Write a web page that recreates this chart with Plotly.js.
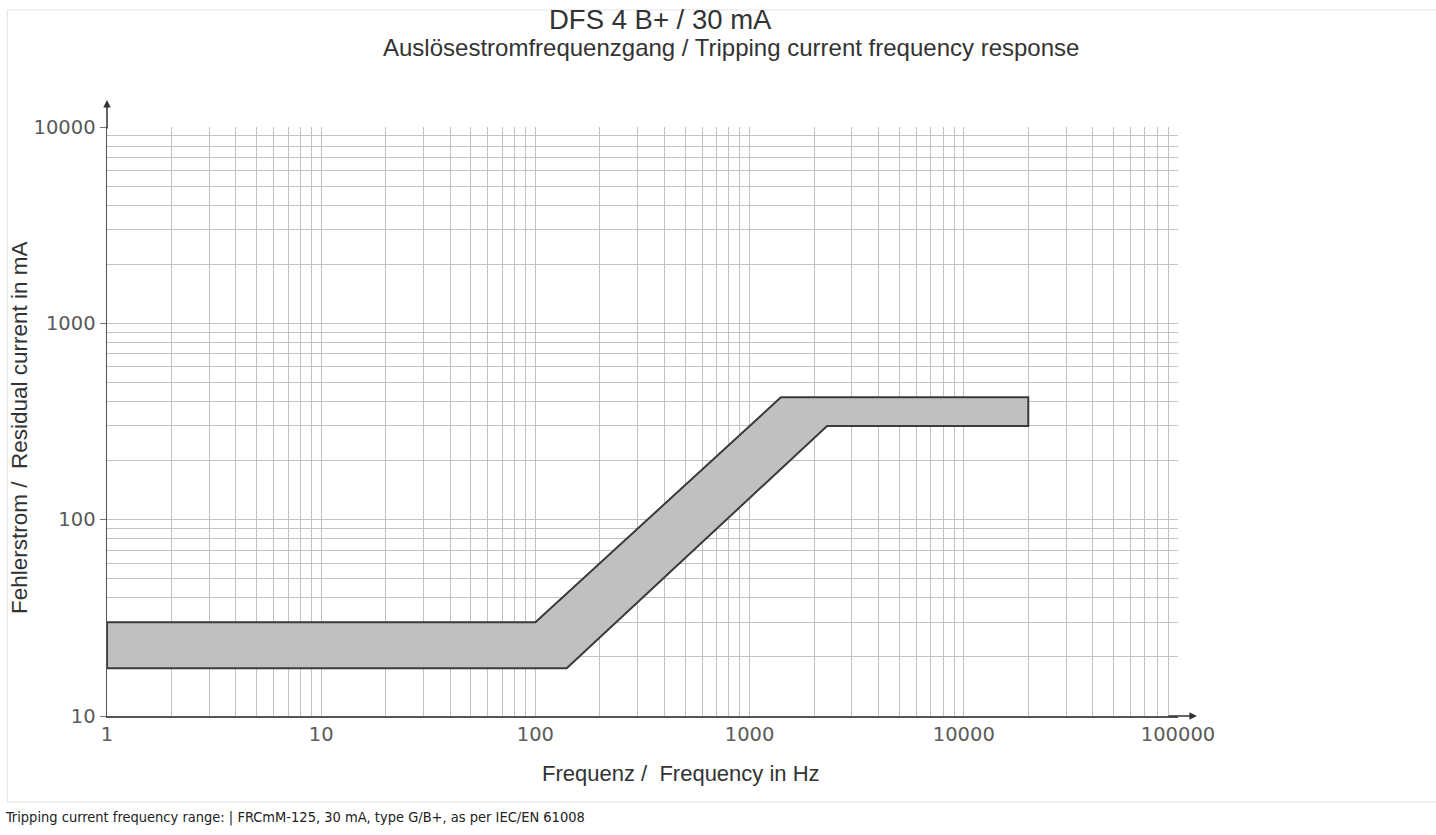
<!DOCTYPE html>
<html>
<head>
<meta charset="utf-8">
<script src="https://cdn.plot.ly/plotly-3.0.1.min.js"></script>
<style>html,body{margin:0;padding:0;background:#fff;}#chart{width:1436px;height:835px;}</style>
</head>
<body>
<div id="chart"></div>
<script>
// Band boundaries (frequency in Hz, residual current in mA)
const upperFreq = [1, 100, 1400, 20000];
const upperCurrent = [30, 30, 420, 420];
const lowerFreq = [1, 140, 2300, 20000];
const lowerCurrent = [17.5, 17.5, 300, 300];

// Tick labels
const xMajorTicks = [1, 10, 100, 1000, 10000, 100000];
const xTickLabels = ["1", "10", "100", "1000", "10000", "100000"];
const yMajorTicks = [10, 100, 1000, 10000];
const yTickLabels = ["10", "100", "1000", "10000"];
const minorDigits = [2, 3, 4, 5, 6, 7, 8, 9];

const titleLine1 = "DFS 4 B+ / 30 mA";
const titleLine2 = "Auslösestromfrequenzgang / Tripping current frequency response";
const xTitle = "Frequenz /  Frequency in Hz";
const yTitle = "Fehlerstrom /  Residual current in mA";
const footer = "Tripping current frequency range: | FRCmM-125, 30 mA, type G/B+, as per IEC/EN 61008";

function minorVals(majors) {
  const out = [];
  majors.slice(0, -1).forEach(m => minorDigits.forEach(d => out.push(m * d)));
  return out;
}

// polygon: upper edge left->right, lower edge right->left, closed
const polyX = upperFreq.concat(lowerFreq.slice().reverse(), [upperFreq[0]]);
const polyY = upperCurrent.concat(lowerCurrent.slice().reverse(), [upperCurrent[0]]);

const trace = {
  x: polyX, y: polyY, type: 'scatter', mode: 'lines',
  fill: 'toself', fillcolor: '#c0c0c0',
  line: {color: '#3a3a3a', width: 2},
  hoverinfo: 'skip', showlegend: false
};

const tickFont = {family: 'DejaVu Sans, sans-serif', size: 19.5, color: '#5a5a5a'};
const fam = 'Liberation Sans, Arial, sans-serif';
const gridColor = '#c2c2c2';

const layout = {
  width: 1436, height: 835,
  margin: {l: 107, r: 258, t: 127, b: 119},
  paper_bgcolor: '#fff', plot_bgcolor: '#fff',
  showlegend: false,
  xaxis: {
    type: 'log', range: [0, 5],
    tickmode: 'array', tickvals: xMajorTicks, ticktext: xTickLabels,
    ticks: '', tickfont: tickFont,
    showgrid: true, gridcolor: gridColor, gridwidth: 1,
    minor: {tickmode: 'array', tickvals: minorVals(xMajorTicks), showgrid: true, gridcolor: gridColor, gridwidth: 1, ticks: ''},
    showline: true, linecolor: '#555', linewidth: 1.5,
    zeroline: false, fixedrange: true
  },
  yaxis: {
    type: 'log', range: [1, 4],
    tickmode: 'array', tickvals: yMajorTicks, ticktext: yTickLabels,
    ticks: 'outside', ticklen: 6, tickcolor: '#777', tickwidth: 1,
    tickfont: tickFont,
    showgrid: true, gridcolor: gridColor, gridwidth: 1,
    minor: {tickmode: 'array', tickvals: minorVals(yMajorTicks), showgrid: true, gridcolor: gridColor, gridwidth: 1, ticks: ''},
    showline: true, linecolor: '#555', linewidth: 1.5,
    zeroline: false, fixedrange: true
  },
  shapes: [{
    type: 'rect', xref: 'paper', yref: 'paper', layer: 'below',
    x0: -0.093, x1: 1.245, y0: -0.146, y1: 1.1987,
    line: {color: '#e4e4e4', width: 1}
  }],
  annotations: [
    {text: titleLine1, xref: 'paper', yref: 'paper', x: 0.517, y: 1.1817, xanchor: 'center', yanchor: 'middle', showarrow: false,
     font: {family: fam, size: 27.5, color: '#333'}},
    {text: titleLine2, xref: 'paper', yref: 'paper', x: 0.5826, y: 1.1358, xanchor: 'center', yanchor: 'middle', showarrow: false,
     font: {family: fam, size: 24, color: '#333'}},
    {text: xTitle, xref: 'paper', yref: 'paper', x: 0.536, y: -0.0968, xanchor: 'center', yanchor: 'middle', showarrow: false,
     font: {family: fam, size: 22, color: '#333'}},
    {text: yTitle, xref: 'paper', yref: 'paper', x: -0.0812, y: 0.489, xanchor: 'center', yanchor: 'middle', textangle: -90, showarrow: false,
     font: {family: fam, size: 22.5, color: '#333'}},
    {text: footer, xref: 'paper', yref: 'paper', x: -0.0971, y: -0.173, xanchor: 'left', yanchor: 'middle', showarrow: false,
     font: {family: 'Liberation Sans Narrow, DejaVu Sans Condensed, Arial Narrow, sans-serif', size: 14.5, color: '#222'}},
    {text: '', xref: 'paper', yref: 'paper', x: 0, y: 1.0458, ax: 0, ay: 30, showarrow: true, arrowhead: 2, arrowsize: 1, arrowwidth: 1.5, arrowcolor: '#333'},
    {text: '', xref: 'paper', yref: 'paper', x: 1.0177, y: 0, ax: -30, ay: 0, showarrow: true, arrowhead: 2, arrowsize: 1, arrowwidth: 1.5, arrowcolor: '#333'}
  ]
};

Plotly.newPlot('chart', [trace], layout, {displayModeBar: false, staticPlot: true});
</script>
</body>
</html>
